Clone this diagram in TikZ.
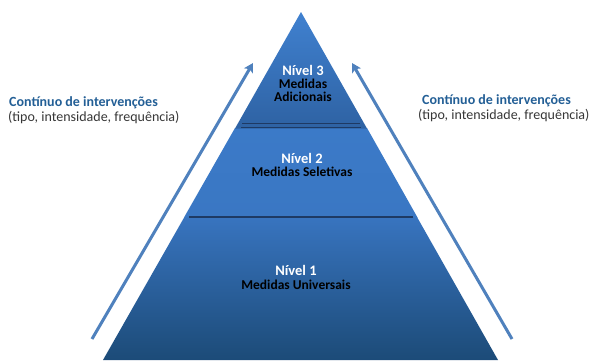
\documentclass[tikz,border=0pt]{standalone}
\usepackage{fontspec}
\setmainfont{Carlito}
\usetikzlibrary{arrows.meta}
\definecolor{arrowblue}{RGB}{79,129,189}
\definecolor{titleblue}{RGB}{35,95,150}
\definecolor{subgray}{RGB}{55,55,55}
\definecolor{sepdark}{RGB}{30,58,100}
\definecolor{tThreeTop}{RGB}{64,129,208}
\definecolor{tThreeBot}{RGB}{46,98,163}
\definecolor{tTwoTop}{RGB}{59,122,200}
\definecolor{tTwoBot}{RGB}{58,119,195}
\definecolor{tOneTop}{RGB}{56,116,191}
\definecolor{tOneBot}{RGB}{28,75,120}
\tikzset{
  lvl/.style={anchor=base, text=white, font=\bfseries\fontsize{14.5}{16}\selectfont, inner sep=0pt},
  meas/.style={anchor=base, text=black, font=\bfseries\fontsize{13.5}{15}\selectfont, inner sep=0pt},
  conttitle/.style={anchor=base west, text=titleblue, font=\bfseries\fontsize{14}{16}\selectfont, inner sep=0pt},
  contsub/.style={anchor=base west, text=subgray, font=\fontsize{14}{16}\selectfont, inner sep=0pt},
  uparrow/.style={draw=arrowblue, line width=3pt, -{Stealth[length=9pt,width=10pt,inset=2pt]}},
  sepline/.style={draw=sepdark, line width=1pt}
}
\begin{document}
\begin{tikzpicture}[x=1pt,y=-1pt]
\useasboundingbox[fill=white] (0,0) rectangle (592,360);
% tiers
\path[top color=tOneTop, bottom color=tOneBot] (184.4,217) -- (417,217) -- (498,360) -- (103,360) -- cycle;
\path[top color=tTwoTop, bottom color=tTwoBot] (235,128) -- (367,128) -- (417.5,217.5) -- (184,217.5) -- cycle;
\path[top color=tThreeTop, bottom color=tThreeBot] (301,12) -- (367,128.5) -- (235,128.5) -- cycle;
% separators
\draw[sepline] (242,123.5) -- (360,123.5);
\draw[sepline] (241,127) -- (361,127);
\draw[sepdark, line width=2pt] (189,217) -- (413,217);
% texts in pyramid
\node[lvl] (n3) at (303,75) {Nível 3};
\node[meas] (m3a) at (303,88.5) {Medidas};
\node[meas] (m3b) at (303,101.7) {Adicionais};
\node[lvl] (n2) at (302,163.3) {Nível 2};
\node[meas] (m2) at (302,176.7) {Medidas Seletivas};
\node[lvl] (n1) at (296,275) {Nível 1};
\node[meas] (m1) at (296,289) {Medidas Universais};
% side texts
\node[conttitle] (lt) at (9,106.5) {Contínuo de intervenções};
\node[contsub] (ls) at (8,121) {(tipo, intensidade, frequência)};
\node[conttitle] (rt) at (422,104.5) {Contínuo de intervenções};
\node[contsub] (rs) at (418,119) {(tipo, intensidade, frequência)};
% arrows
\coordinate (la0) at (92,339);
\coordinate (la1) at (253,63);
\coordinate (ra0) at (512,339);
\coordinate (ra1) at (352,63);
\draw[uparrow] (la0) -- (la1);
\draw[uparrow] (ra0) -- (ra1);
\end{tikzpicture}
\end{document}
